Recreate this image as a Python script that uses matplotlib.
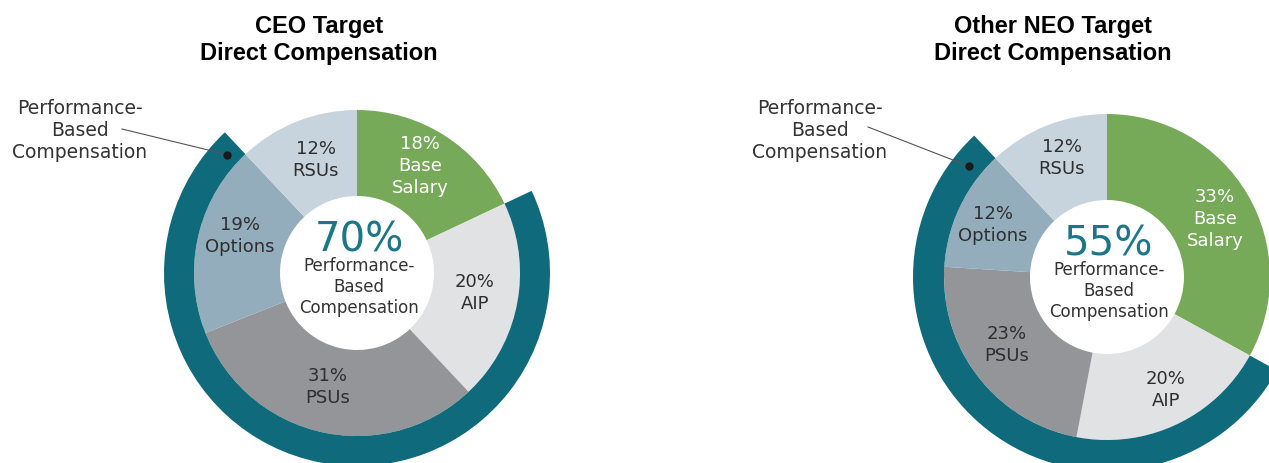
import matplotlib
matplotlib.use("Agg")
import matplotlib.pyplot as plt
import numpy as np

# ============================================================
#  Data
# ============================================================
categories = ["Base Salary", "AIP", "PSUs", "Options", "RSUs"]
label_names = ["Base\nSalary", "AIP", "PSUs", "Options", "RSUs"]
ceo_values = [18, 20, 31, 19, 12]
neo_values = [33, 20, 23, 12, 12]
ceo_perf = 70
neo_perf = 55
titles = ["CEO Target\nDirect Compensation", "Other NEO Target\nDirect Compensation"]

colors = ["#77aa58", "#e1e2e4", "#949598", "#93adbd", "#c7d4de"]
label_colors = ["white", "#2e2e2e", "#2e2e2e", "#2e2e2e", "#2e2e2e"]
TEAL = "#0f6b7c"
TEAL_TXT = "#1b7687"
DARK = "#333333"

W, H = 1269, 463


def py(y):
    # 像素行（从上往下）-> 数据 y
    return H - y


fig = plt.figure(figsize=(W / 100, H / 100), dpi=100)
ax = fig.add_axes([0, 0, 1, 1])

FONT = "DejaVu Sans"


def draw_donut(center, values, perf, title, r_pie, r_hole, r_ring, label_pos,
               title_pos, callout_pos, line_start, dot_offset):
    cx, cy = center
    # 主饼图
    ax.pie(values, colors=colors, startangle=90, counterclock=False,
           radius=r_pie, center=(cx, cy),
           wedgeprops=dict(width=r_pie - r_hole, linewidth=0))

    # 外圈：绩效部分 (除 Base Salary 和 RSUs 之外)
    ring_vals = [values[0], perf, values[4]]
    ax.pie(ring_vals, colors=["none", TEAL, "none"], startangle=90,
           counterclock=False, radius=r_ring, center=(cx, cy),
           wedgeprops=dict(width=r_ring - r_pie, linewidth=0))

    # 各分块标签
    for i, (nm, v) in enumerate(zip(label_names, values)):
        lx, ly = label_pos[i]
        ax.text(lx, py(ly), f"{v}%\n{nm}", ha="center", va="center",
                fontsize=13, color=label_colors[i], family=FONT,
                linespacing=1.32)

    # 中心文字
    ax.text(cx + 2, cy + 33, f"{perf}%", ha="center", va="center",
            fontsize=29, color=TEAL_TXT, family=FONT)
    ax.text(cx + 2, cy - 14, "Performance-\nBased\nCompensation",
            ha="center", va="center", fontsize=12, color=DARK,
            family=FONT, linespacing=1.18)

    # 标题
    tx, ty = title_pos
    ax.text(tx, py(ty), title, ha="center", va="center", fontsize=17,
            fontweight="bold", family="Liberation Sans", linespacing=1.2)

    # 引出标注：圆点放在外圈末端附近
    ang = np.deg2rad(90 - 360 * (100 - values[4]) / 100.0 + 360 + dot_offset)
    r_mid = (r_pie + r_ring) / 2 - 2
    dx, dy = cx + r_mid * np.cos(ang), cy + r_mid * np.sin(ang)
    ax.plot([line_start[0], dx], [py(line_start[1]), dy], color="#555555",
            linewidth=0.8)
    ax.plot(dx, dy, "o", color="#1a1a1a", markersize=5)
    ax.text(callout_pos[0], py(callout_pos[1]), "Performance-\nBased\nCompensation",
            ha="center", va="center", fontsize=13.5, color=DARK, family=FONT,
            linespacing=1.2)


# CEO
draw_donut(center=(357, py(273)), values=ceo_values, perf=ceo_perf, title=titles[0],
           r_pie=163, r_hole=77, r_ring=193,
           label_pos=[(420, 166), (475, 293), (328, 387), (240, 236), (316, 160)],
           title_pos=(319, 40), callout_pos=(80, 131), line_start=(122, 129),
           dot_offset=4.5)

# Other NEO
draw_donut(center=(1107, py(277)), values=neo_values, perf=neo_perf, title=titles[1],
           r_pie=163, r_hole=77, r_ring=194,
           label_pos=[(1215, 219), (1166, 390), (1007, 345), (993, 225), (1062, 158)],
           title_pos=(1053, 40), callout_pos=(820, 131), line_start=(868, 127),
           dot_offset=8)

ax.set_xlim(0, W)
ax.set_ylim(0, H)
ax.set_aspect("equal")
ax.axis("off")

fig.savefig("out.png", dpi=100, facecolor="white")
